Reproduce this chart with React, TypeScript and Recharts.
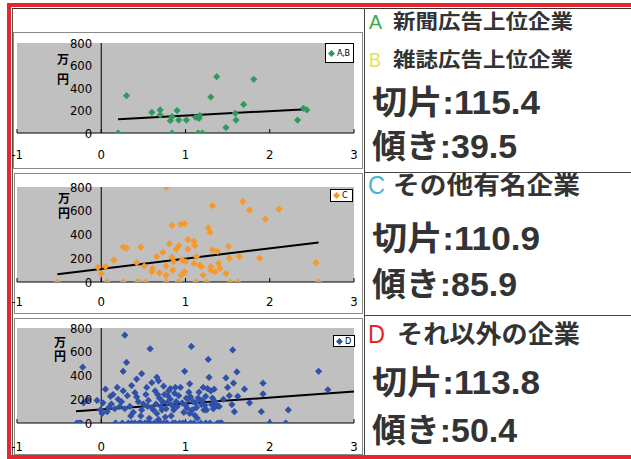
import React from 'react';
import { ScatterChart, Scatter, XAxis, YAxis, CartesianGrid, ReferenceLine, ReferenceDot, Legend } from 'recharts';

const xTicks = [-1, 0, 1, 2, 3];
const yTicks = [0, 200, 400, 600, 800];

const seriesNames = ['A,B', 'C', 'D'];
const seriesColors = ['#2f9a5e', '#f7982a', '#2f51a8'];
const intercepts = [115.4, 110.9, 113.8];
const slopes = [39.5, 85.9, 50.4];
const trendFrom = [0.2, -0.52, -0.3];
const trendTo = [2.44, 2.58, 3.0];

const abPoints = [
  [0.2, 0], [0.3, 332], [0.6, 184], [0.7, 205], [0.7, 160], [0.82, 109], [0.84, 145], [0.84, 0],
  [0.9, 199], [0.92, 115], [1.01, 115], [1.12, 139], [1.16, 130], [1.17, 154], [1.15, 0], [1.2, 0],
  [1.3, 320], [1.37, 501], [1.48, 48], [1.59, 175], [1.6, 115], [1.69, 254], [1.81, 477], [2.33, 115],
  [2.4, 220], [2.44, 205],
];

const cPoints = [
  [-0.52, 0], [-0.04, 123], [0, 71], [0.05, 130], [0.07, 0], [0.15, 186], [0.26, 0], [0.26, 294],
  [0.3, 286], [0.42, 163], [0.43, 0], [0.45, 0], [0.47, 294], [0.51, 134], [0.53, 0], [0.6, 86],
  [0.61, 114], [0.66, 214], [0.69, 77], [0.73, 249], [0.77, 800], [0.77, 0], [0.77, 134], [0.77, 57],
  [0.81, 323], [0.84, 477], [0.84, 209], [0.85, 100], [0.86, 171], [0.89, 277], [0.91, 0], [0.92, 306],
  [0.93, 0], [0.94, 486], [0.95, 57], [0.96, 186], [0.99, 491], [0.99, 86], [1.0, 171], [1.03, 357],
  [1.03, 277], [1.1, 343], [1.11, 306], [1.1, 157], [1.12, 0], [1.13, 214], [1.17, 143], [1.19, 129],
  [1.21, 57], [1.25, 0], [1.27, 457], [1.29, 420], [1.3, 129], [1.3, 100], [1.32, 643], [1.32, 271],
  [1.35, 86], [1.38, 257], [1.39, 157], [1.41, 114], [1.48, 71], [1.51, 300], [1.52, 200], [1.53, 0],
  [1.62, 0], [1.64, 214], [1.68, 677], [1.76, 606], [1.88, 200], [1.95, 529], [2.11, 614], [2.55, 163],
  [2.58, 0],
];

const dPoints = [
  [-0.29, 0], [-0.26, 0], [-0.24, 0], [-0.22, 470], [-0.21, 170], [-0.16, 195], [-0.05, 190], [-0.01, 110],
  [0.05, 285], [0.01, 80], [0.07, 95], [0.11, 225], [0.14, 240], [0.17, 0], [0.19, 300], [0.2, 200],
  [0.22, 140], [0.25, 0], [0.26, 270], [0.26, 435], [0.28, 740], [0.3, 510], [0.32, 0], [0.34, 140],
  [0.36, 315], [0.36, 0], [0.4, 255], [0.42, 220], [0.42, 370], [0.45, 0], [0.48, 110], [0.48, 415],
  [0.52, 0], [0.54, 300], [0.55, 140], [0.58, 0], [0.58, 625], [0.6, 340], [0.62, 110], [0.63, 0],
  [0.64, 270], [0.66, 80], [0.66, 385], [0.68, 355], [0.69, 210], [0.7, 0], [0.72, 110], [0.74, 310],
  [0.76, 50], [0.78, 170], [0.78, 0], [0.8, 270], [0.82, 290], [0.82, 200], [0.85, 0], [0.86, 110],
  [0.88, 300], [0.9, 140], [0.93, 0], [0.94, 300], [0.99, 435], [1.0, 0], [1.01, 210], [1.02, 125],
  [1.03, 200], [1.05, 330], [1.05, 80], [1.06, 220], [1.07, 645], [1.08, 110], [1.1, 0], [1.11, 65],
  [1.12, 170], [1.15, 210], [1.18, 0], [1.19, 155], [1.21, 300], [1.22, 110], [1.24, 225], [1.25, 110],
  [1.27, 535], [1.28, 385], [1.29, 0], [1.3, 270], [1.31, 155], [1.32, 210], [1.34, 285], [1.36, 145],
  [1.38, 145], [1.41, 0], [1.43, 0], [1.48, 380], [1.5, 300], [1.55, 155], [1.56, 615], [1.57, 335],
  [1.58, 95], [1.61, 430], [1.62, 225], [1.7, 285], [1.76, 170], [1.9, 95], [1.92, 245], [1.92, 335],
  [2.0, 0], [2.19, 0], [2.22, 110], [2.58, 435], [2.69, 280],
  [0.02, 170], [0.09, 130], [0.12, 160], [0.16, 120], [0.24, 180], [0.28, 120], [0.31, 230], [0.38, 90],
  [0.44, 180], [0.5, 160], [0.53, 240], [0.56, 190], [0.6, 130], [0.65, 160], [0.67, 240], [0.71, 140],
  [0.73, 180], [0.75, 240], [0.77, 120], [0.79, 230], [0.84, 150], [0.87, 250], [0.89, 180], [0.92, 230],
  [0.96, 170], [0.98, 90], [1.0, 150], [1.04, 260], [1.09, 180], [1.13, 130], [1.16, 260], [1.2, 190],
  [1.23, 150], [1.26, 290], [1.33, 120], [1.35, 180], [1.4, 140], [1.45, 200], [1.52, 230], [0.47, 60],
  [0.35, 60], [0.57, 40], [0.68, 30], [0.83, 60], [1.14, 40],
  [0.4, 0], [0.47, 0], [0.55, 0], [0.66, 0], [0.74, 0], [0.88, 0], [0.97, 0], [1.06, 0], [1.24, 0], [1.38, 0],
];

const allPoints = [abPoints, cPoints, dPoints];

const unitLabel = '万円';
const headA = ['A', '新聞広告上位企業'];
const headB = ['B', '雑誌広告上位企業'];
const headC = ['C', 'その他有名企業'];
const headD = ['D', 'それ以外の企業'];
const interceptLabel = '切片';
const slopeLabel = '傾き';

const NARROW = "'Liberation Sans Narrow', 'Arial Narrow', 'DejaVu Sans Condensed', 'Liberation Sans', Arial, sans-serif";
const JP = "'Liberation Sans', 'Noto Sans CJK JP', sans-serif";

const panelCfg = [
  {
    frame: { left: 13, top: 32, width: 350, height: 137 },
    chart: { left: 2, top: 33, width: 360, height: 134 },
    margin: { top: 10, right: 8, bottom: 14, left: 15 },
    tickMargin: 21,
    unit: { left: 57, top: 49, lh: 20 },
    legend: { left: 323, top: 10, width: 29, height: 20 },
  },
  {
    frame: { left: 14, top: 173, width: 349, height: 141 },
    chart: { left: 2, top: 174, width: 360, height: 138 },
    margin: { top: 13, right: 8, bottom: 10, left: 15 },
    tickMargin: 19,
    unit: { left: 58, top: 190, lh: 15 },
    legend: { left: 328, top: 15, width: 23, height: 13 },
  },
  {
    frame: { left: 14, top: 318, width: 349, height: 137 },
    chart: { left: 2, top: 319, width: 360, height: 134 },
    margin: { top: 9, right: 8, bottom: 10, left: 15 },
    tickMargin: 23,
    unit: { left: 54, top: 335, lh: 14 },
    legend: { left: 331, top: 16, width: 22, height: 12 },
  },
];

const makeDiamond = (color: string) => (props: any) => {
  const { cx, cy } = props;
  if (cx == null || cy == null) return null;
  const r = 3.6;
  return <polygon points={`${cx},${cy - r} ${cx + r},${cy} ${cx},${cy + r} ${cx - r},${cy}`} fill={color} />;
};

function Panel({ idx }: { idx: number }) {
  const cfg = panelCfg[idx];
  const color = seriesColors[idx];
  const data = allPoints[idx].map(([x, y]) => ({ x, y }));
  const x1 = trendFrom[idx];
  const x2 = trendTo[idx];
  const seg = [
    { x: x1, y: intercepts[idx] + slopes[idx] * x1 },
    { x: x2, y: intercepts[idx] + slopes[idx] * x2 },
  ];
  return (
    <>
      <div style={{ position: 'absolute', left: cfg.frame.left, top: cfg.frame.top, width: cfg.frame.width, height: cfg.frame.height, border: '1px solid #8a8a8a', boxSizing: 'border-box' }} />
      <div style={{ position: 'absolute', left: cfg.chart.left, top: cfg.chart.top }}>
        <ScatterChart width={cfg.chart.width} height={cfg.chart.height} margin={cfg.margin}>
          <CartesianGrid horizontal={false} vertical={false} fill="#c0c0c0" fillOpacity={1} stroke="none" />
          <XAxis
            type="number"
            dataKey="x"
            domain={[-1, 3]}
            ticks={xTicks}
            interval={0}
            allowDataOverflow
            height={20}
            axisLine={{ stroke: '#000', strokeWidth: 1 }}
            tickLine={{ stroke: '#000' }}
            tickSize={-4}
            tickMargin={cfg.tickMargin}
            tick={{ fill: '#000', fontSize: 13, fontFamily: NARROW }}
          />
          <YAxis type="number" dataKey="y" domain={[0, 800]} allowDataOverflow hide />
          <ReferenceLine x={0} stroke="#000" strokeWidth={1} ifOverflow="visible" />
          {yTicks.map((v) => (
            <ReferenceDot
              key={v}
              x={0}
              y={v}
              r={0}
              fill="none"
              stroke="none"
              ifOverflow="visible"
              label={{ value: String(v), position: 'left', offset: 9, fill: '#000', fontSize: 13, fontFamily: NARROW }}
            />
          ))}
          <Scatter
            name={seriesNames[idx]}
            data={data}
            fill={color}
            shape={makeDiamond(color)}
            legendType="diamond"
            isAnimationActive={false}
          />
          <ReferenceLine segment={seg} stroke="#000" strokeWidth={2} ifOverflow="visible" />
          <Legend
            layout="horizontal"
            verticalAlign="middle"
            align="center"
            wrapperStyle={{ left: cfg.legend.left, top: cfg.legend.top, width: cfg.legend.width, height: cfg.legend.height }}
            content={(p: any) => (
              <div style={{ boxSizing: 'border-box', width: '100%', height: '100%', border: '1px solid #000', background: '#fff', display: 'flex', alignItems: 'center', paddingLeft: 2, fontFamily: NARROW, fontSize: 9, color: '#000', lineHeight: 1, overflow: 'hidden', whiteSpace: 'nowrap' }}>
                {(p.payload || []).map((e: any, i: number) => (
                  <span key={i} style={{ display: 'flex', alignItems: 'center' }}>
                    <svg width={7} height={7} style={{ display: 'block' }}>
                      <polygon points="3.5,0 7,3.5 3.5,7 0,3.5" fill={color} />
                    </svg>
                    <span style={{ marginLeft: 2, letterSpacing: -0.3 }}>{e.value}</span>
                  </span>
                ))}
              </div>
            )}
          />
        </ScatterChart>
      </div>
      <div style={{ position: 'absolute', left: cfg.unit.left, top: cfg.unit.top, width: 13, fontSize: 12, lineHeight: `${cfg.unit.lh}px`, fontWeight: 700, fontFamily: "'Noto Sans CJK JP', sans-serif", color: '#000', wordBreak: 'break-all' }}>
        {unitLabel}
      </div>
    </>
  );
}

const TXT = '#333';

function RightColumn() {
  return (
    <svg width={267} height={459} style={{ position: 'absolute', left: 364, top: 0 }}>
      <text x={5} y={29} fontSize={20} fill="#3aaa4c" fontFamily={JP} textLength={13} lengthAdjust="spacingAndGlyphs">{headA[0]}</text>
      <text x={29} y={29} fontSize={20} fontWeight={700} fill={TXT} fontFamily={JP} textLength={180} lengthAdjust="spacingAndGlyphs">{headA[1]}</text>
      <text x={5} y={67} fontSize={20} fill="#e2e24e" fontFamily={JP} textLength={12} lengthAdjust="spacingAndGlyphs">{headB[0]}</text>
      <text x={29} y={67} fontSize={20} fontWeight={700} fill={TXT} fontFamily={JP} textLength={180} lengthAdjust="spacingAndGlyphs">{headB[1]}</text>
      <text x={8} y={114} fontSize={33} fontWeight={700} fill={TXT} fontFamily={JP} textLength={168} lengthAdjust="spacingAndGlyphs">{`${interceptLabel}:${intercepts[0]}`}</text>
      <text x={8} y={158} fontSize={33} fontWeight={700} fill={TXT} fontFamily={JP} textLength={145} lengthAdjust="spacingAndGlyphs">{`${slopeLabel}:${slopes[0]}`}</text>

      <text x={4} y={194} fontSize={25} fill="#4ab6d6" fontFamily={JP} textLength={17} lengthAdjust="spacingAndGlyphs">{headC[0]}</text>
      <text x={29} y={194} fontSize={25} fontWeight={700} fill={TXT} fontFamily={JP} textLength={187} lengthAdjust="spacingAndGlyphs">{headC[1]}</text>
      <text x={8} y={250} fontSize={33} fontWeight={700} fill={TXT} fontFamily={JP} textLength={168} lengthAdjust="spacingAndGlyphs">{`${interceptLabel}:${intercepts[1]}`}</text>
      <text x={8} y={296} fontSize={33} fontWeight={700} fill={TXT} fontFamily={JP} textLength={145} lengthAdjust="spacingAndGlyphs">{`${slopeLabel}:${slopes[1]}`}</text>

      <text x={4} y={343} fontSize={25} fill="#e02828" fontFamily={JP} textLength={17} lengthAdjust="spacingAndGlyphs">{headD[0]}</text>
      <text x={33} y={343} fontSize={25} fontWeight={700} fill={TXT} fontFamily={JP} textLength={183} lengthAdjust="spacingAndGlyphs">{headD[1]}</text>
      <text x={8} y={394} fontSize={33} fontWeight={700} fill={TXT} fontFamily={JP} textLength={168} lengthAdjust="spacingAndGlyphs">{`${interceptLabel}:${intercepts[2]}`}</text>
      <text x={8} y={442} fontSize={33} fontWeight={700} fill={TXT} fontFamily={JP} textLength={145} lengthAdjust="spacingAndGlyphs">{`${slopeLabel}:${slopes[2]}`}</text>
    </svg>
  );
}

const line = (s: React.CSSProperties) => <div style={{ position: 'absolute', ...s }} />;

export default function App() {
  return (
    <div style={{ position: 'absolute', left: 0, top: 0, width: 631, height: 459, background: '#fff', overflow: 'hidden' }}>
      {line({ left: 12, top: 8, width: 619, height: 1, background: '#333' })}
      {line({ left: 12, top: 8, width: 1, height: 448, background: '#555' })}
      {line({ left: 364, top: 8, width: 1, height: 448, background: '#444' })}
      {line({ left: 364, top: 172, width: 267, height: 1, background: '#444' })}
      {line({ left: 364, top: 315, width: 267, height: 1, background: '#444' })}
      <Panel idx={0} />
      <Panel idx={1} />
      <Panel idx={2} />
      <RightColumn />
      {line({ left: 7, top: 3, width: 624, height: 4, background: '#e5262c' })}
      {line({ left: 7, top: 3, width: 4, height: 456, background: '#e5262c' })}
      {line({ left: 7, top: 455, width: 624, height: 4, background: '#e5262c' })}
    </div>
  );
}
